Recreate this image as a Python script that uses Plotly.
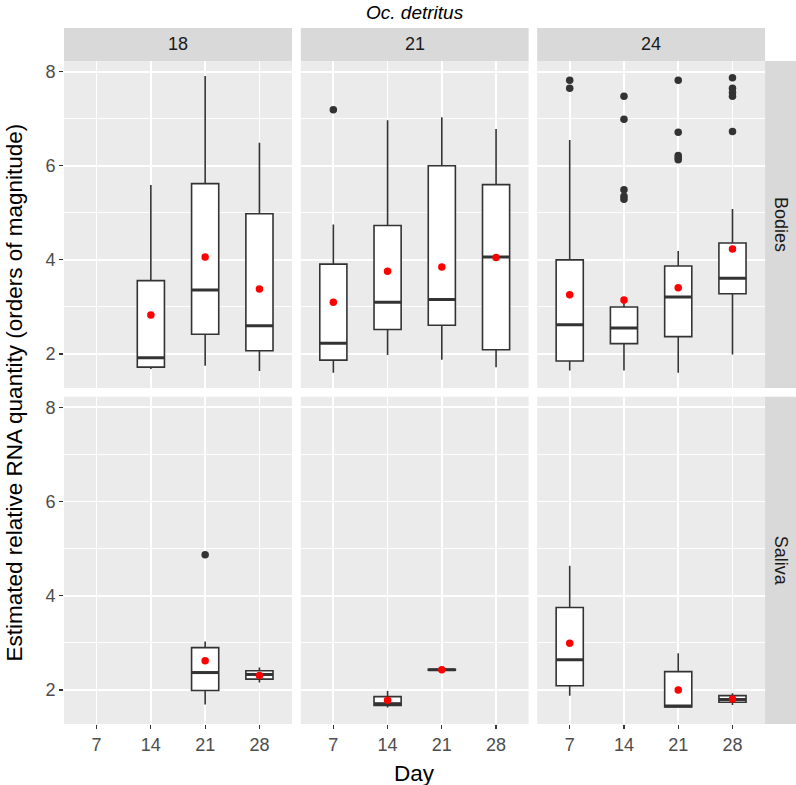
import plotly.graph_objects as go

# ---------------- data ----------------
days = ["7", "14", "21", "28"]
temps = ["18", "21", "24"]
tissues = ["Bodies", "Saliva"]

box_tissue = ["Bodies"] * 11 + ["Saliva"] * 7
box_temp = ["18", "18", "18", "21", "21", "21", "21", "24", "24", "24", "24",
            "18", "18", "21", "21", "24", "24", "24"]
box_day = ["14", "21", "28", "7", "14", "21", "28", "7", "14", "21", "28",
           "21", "28", "14", "21", "7", "21", "28"]
lower = [1.68, 1.75, 1.64, 1.60, 1.98, 1.88, 1.72, 1.65, 1.65, 1.60, 1.99,
         1.69, 2.16, 1.63, 2.42, 1.88, 1.63, 1.68]
q1 = [1.72, 2.42, 2.07, 1.87, 2.52, 2.61, 2.09, 1.85, 2.22, 2.37, 3.28,
      1.99, 2.23, 1.67, 2.42, 2.09, 1.64, 1.74]
median = [1.92, 3.36, 2.60, 2.23, 3.10, 3.16, 4.06, 2.62, 2.55, 3.21, 3.61,
          2.37, 2.33, 1.71, 2.43, 2.64, 1.66, 1.80]
q3 = [3.56, 5.62, 4.98, 3.91, 4.73, 6.00, 5.60, 4.00, 3.00, 3.87, 4.36,
      2.90, 2.41, 1.86, 2.44, 3.75, 2.39, 1.88]
upper = [5.59, 7.91, 6.49, 4.75, 6.97, 7.03, 6.78, 6.55, 3.10, 4.19, 5.08,
         3.03, 2.48, 1.98, 2.44, 4.64, 2.78, 1.93]
mean = [2.83, 4.06, 3.38, 3.10, 3.76, 3.85, 4.05, 3.26, 3.15, 3.41, 4.23,
        2.62, 2.31, 1.78, 2.43, 2.99, 2.00, 1.81]

out_tissue = ["Bodies"] * 18 + ["Saliva"]
out_temp = ["21", "24", "24", "24", "24", "24", "24", "24",
            "24", "24", "24", "24", "24", "24", "24", "24", "24", "24", "18"]
out_day = ["7", "7", "7", "14", "14", "14", "14", "14",
           "21", "21", "21", "21", "21", "28", "28", "28", "28", "28", "21"]
out_val = [7.19, 7.82, 7.65, 7.48, 6.99, 5.49, 5.35, 5.29,
           7.82, 6.71, 6.22, 6.17, 6.13, 7.87, 7.65, 7.56, 7.48, 6.73, 4.87]

y_ticks = [2, 4, 6, 8]
y_minor = [3, 5, 7]

# ---------------- layout geometry ----------------
W, H = 796, 785
ML, MR, MT, MB = 64, 0, 28, 61
PW, PH = W - ML - MR, H - MT - MB
x_dom = [[0.0, 0.3115], [0.3235, 0.6347], [0.6464, 0.9577]]
y_dom = {"Bodies": [0.4828, 0.9526], "Saliva": [0.0, 0.4703]}
strip_top = [0.9526, 1.0]
strip_right = [0.9577, 1.0]
BOXW = 0.5

FONT = "Liberation Sans, Arial, Helvetica, sans-serif"
GRID = "#FFFFFF"
PANEL = "#EBEBEB"
STRIP = "#D9D9D9"
TICK_SIZE = 18
TITLE_SIZE = 22.5


def axis_index(tissue, temp):
    return tissues.index(tissue) * 3 + temps.index(temp) + 1


def pos(day):
    return days.index(day) + 1


fig = go.Figure()

for tissue in tissues:
    for temp in temps:
        k = axis_index(tissue, temp)
        xa = "x" if k == 1 else f"x{k}"
        ya = "y" if k == 1 else f"y{k}"
        idx = [i for i in range(len(box_day))
               if box_tissue[i] == tissue and box_temp[i] == temp]
        if idx:
            fig.add_trace(go.Box(
                x=[pos(box_day[i]) for i in idx],
                q1=[q1[i] for i in idx],
                median=[median[i] for i in idx],
                q3=[q3[i] for i in idx],
                lowerfence=[lower[i] for i in idx],
                upperfence=[upper[i] for i in idx],
                width=BOXW, whiskerwidth=0, boxpoints=False,
                fillcolor="white", line=dict(color="#333333", width=1.6),
                xaxis=xa, yaxis=ya, showlegend=False, hoverinfo="skip"))
            # thick median segments
            mx, my = [], []
            for i in idx:
                p = pos(box_day[i])
                mx += [p - BOXW / 2, p + BOXW / 2, None]
                my += [median[i], median[i], None]
            fig.add_trace(go.Scatter(
                x=mx, y=my, mode="lines",
                line=dict(color="#333333", width=3),
                xaxis=xa, yaxis=ya, showlegend=False, hoverinfo="skip"))
        oidx = [i for i in range(len(out_val))
                if out_tissue[i] == tissue and out_temp[i] == temp]
        if oidx:
            fig.add_trace(go.Scatter(
                x=[pos(out_day[i]) for i in oidx],
                y=[out_val[i] for i in oidx],
                mode="markers", marker=dict(color="#333333", size=7.5),
                xaxis=xa, yaxis=ya, showlegend=False, hoverinfo="skip"))
        if idx:
            fig.add_trace(go.Scatter(
                x=[pos(box_day[i]) for i in idx],
                y=[mean[i] for i in idx],
                mode="markers", marker=dict(color="#FF0000", size=7.5),
                xaxis=xa, yaxis=ya, showlegend=False, hoverinfo="skip"))

        show_x = tissue == "Saliva"
        show_y = temp == "18"
        xkey = "xaxis" if k == 1 else f"xaxis{k}"
        ykey = "yaxis" if k == 1 else f"yaxis{k}"
        fig.update_layout(**{
            xkey: dict(
                domain=x_dom[temps.index(temp)], anchor=ya,
                range=[0.4, 4.6], tickmode="array",
                tickvals=[pos(d) for d in days], ticktext=days,
                showticklabels=show_x,
                ticks="outside" if show_x else "", ticklen=4,
                tickcolor="#333333", tickwidth=1.2,
                tickfont=dict(family=FONT, size=TICK_SIZE, color="#4D4D4D"),
                showgrid=True, gridcolor=GRID, gridwidth=1.8,
                zeroline=False, showline=False, fixedrange=True),
            ykey: dict(
                domain=y_dom[tissue], anchor=xa,
                range=[1.278, 8.227], tickmode="array",
                tickvals=y_ticks, ticktext=[str(v) for v in y_ticks],
                showticklabels=show_y,
                ticks="outside" if show_y else "", ticklen=4,
                tickcolor="#333333", tickwidth=1.2,
                tickfont=dict(family=FONT, size=TICK_SIZE, color="#4D4D4D"),
                showgrid=True, gridcolor=GRID, gridwidth=1.8,
                minor=dict(tickvals=y_minor, showgrid=True, gridcolor=GRID,
                           gridwidth=0.9, ticks=""),
                zeroline=False, showline=False, fixedrange=True),
        })

shapes = []
annotations = []
for c, temp in enumerate(temps):
    shapes.append(dict(type="rect", xref="paper", yref="paper",
                       x0=x_dom[c][0], x1=x_dom[c][1],
                       y0=strip_top[0], y1=strip_top[1],
                       fillcolor=STRIP, line=dict(width=0), layer="below"))
    annotations.append(dict(text=temp, xref="paper", yref="paper",
                            x=(x_dom[c][0] + x_dom[c][1]) / 2,
                            y=(strip_top[0] + strip_top[1]) / 2,
                            showarrow=False, xanchor="center", yanchor="middle",
                            font=dict(family=FONT, size=TICK_SIZE, color="#1A1A1A")))
for tissue in tissues:
    d = y_dom[tissue]
    shapes.append(dict(type="rect", xref="paper", yref="paper",
                       x0=strip_right[0], x1=strip_right[1], y0=d[0], y1=d[1],
                       fillcolor=STRIP, line=dict(width=0), layer="below"))
    annotations.append(dict(text=tissue, xref="paper", yref="paper",
                            x=(strip_right[0] + strip_right[1]) / 2,
                            y=(d[0] + d[1]) / 2, textangle=90,
                            showarrow=False, xanchor="center", yanchor="middle",
                            font=dict(family=FONT, size=TICK_SIZE, color="#1A1A1A")))
# panel backgrounds
for tissue in tissues:
    for c in range(3):
        shapes.append(dict(type="rect", xref="paper", yref="paper",
                           x0=x_dom[c][0], x1=x_dom[c][1],
                           y0=y_dom[tissue][0], y1=y_dom[tissue][1],
                           fillcolor=PANEL, line=dict(width=0), layer="below"))

panel_mid_y = (y_dom["Saliva"][0] + y_dom["Bodies"][1]) / 2
annotations.append(dict(text="<i>Oc. detritus</i>", xref="paper", yref="paper",
                        x=(414.5 - ML) / PW, y=(H - MB - 12) / PH,
                        showarrow=False, xanchor="center", yanchor="middle",
                        font=dict(family=FONT, size=19, color="#000000")))
annotations.append(dict(text="Day", xref="paper", yref="paper",
                        x=(414.5 - ML) / PW, y=-(773 - (H - MB)) / PH,
                        showarrow=False, xanchor="center", yanchor="middle",
                        font=dict(family=FONT, size=TITLE_SIZE, color="#000000")))
annotations.append(dict(text="Estimated relative RNA quantity (orders of magnitude)",
                        xref="paper", yref="paper",
                        x=-(ML - 14) / PW, y=panel_mid_y, textangle=-90,
                        showarrow=False, xanchor="center", yanchor="middle",
                        font=dict(family=FONT, size=TITLE_SIZE, color="#000000")))

fig.update_layout(
    width=W, height=H,
    margin=dict(l=ML, r=MR, t=MT, b=MB),
    paper_bgcolor="white", plot_bgcolor="rgba(0,0,0,0)",
    shapes=shapes, annotations=annotations, showlegend=False,
)

fig.write_html("out.html",
               config={"displayModeBar": False, "staticPlot": True},
               post_script="document.body.style.margin='0';"
                           "document.body.style.padding='0';"
                           "document.documentElement.style.overflow='hidden';")
